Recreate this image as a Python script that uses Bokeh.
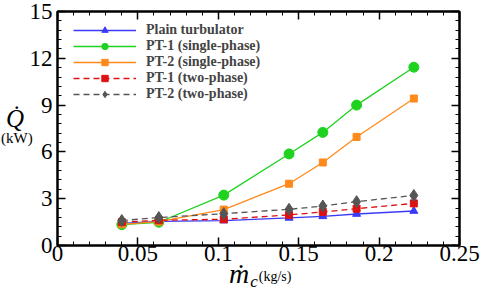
from bokeh.plotting import figure
from bokeh.models import (FixedTicker, LinearAxis, Legend, LegendItem, Range1d, Div)
from bokeh.layouts import column
from bokeh.embed import file_html
from bokeh.resources import INLINE

mass_flow = [0.04, 0.063, 0.1034, 0.144, 0.165, 0.186, 0.2216]
plain = [1.42, 1.55, 1.60, 1.77, 1.87, 2.02, 2.21]
pt1_single = [1.34, 1.49, 3.23, 5.87, 7.25, 9.0, 11.43]
pt2_single = [1.36, 1.53, 2.30, 3.96, 5.32, 6.96, 9.42]
pt1_two = [1.50, 1.62, 1.68, 1.96, 2.15, 2.36, 2.70]
pt2_two = [1.60, 1.79, 2.04, 2.32, 2.53, 2.81, 3.21]

x_ticks = [0, 0.05, 0.1, 0.15, 0.2, 0.25]
x_tick_labels = ["0", "0.05", "0.1", "0.15", "0.2", "0.25"]
y_ticks = [0, 3, 6, 9, 12, 15]
y_tick_labels = ["0", "3", "6", "9", "12", "15"]
x_minor = [round(i * 0.01, 3) for i in range(26)]
y_minor = [round(i * 0.6, 2) for i in range(26)]

FONT = "Liberation Serif"

p = figure(width=480, height=271, output_backend="svg", toolbar_location=None,
           x_range=Range1d(0, 0.25), y_range=Range1d(0, 15),
           min_border_left=57, min_border_right=21, min_border_top=11, min_border_bottom=26)
p.xgrid.visible = False
p.ygrid.visible = False
p.outline_line_color = "black"
p.outline_line_width = 2
p.background_fill_color = "white"
p.border_fill_color = "white"


def style_axis(ax, ticks, minor, labels, show_labels):
    ax.ticker = FixedTicker(ticks=ticks, minor_ticks=minor)
    ax.axis_line_color = "black"
    ax.axis_line_width = 2
    ax.major_tick_in = 8
    ax.major_tick_out = 0
    ax.minor_tick_in = 4
    ax.minor_tick_out = 0
    ax.major_tick_line_width = 1.5
    ax.minor_tick_line_width = 1
    ax.major_label_text_font = FONT
    ax.major_label_text_color = "black"
    if show_labels:
        ax.major_label_text_font_size = "23px"
        ax.major_label_overrides = {t: l for t, l in zip(ticks, labels)}
    else:
        ax.major_label_text_font_size = "1px"
        ax.major_label_standoff = 0
        ax.major_label_overrides = {t: "" for t in ticks}


style_axis(p.xaxis[0], x_ticks, x_minor, x_tick_labels, True)
p.xaxis[0].major_label_standoff = 0
style_axis(p.yaxis[0], y_ticks, y_minor, y_tick_labels, True)
p.yaxis[0].major_label_standoff = 5

top = LinearAxis()
style_axis(top, x_ticks, x_minor, x_tick_labels, False)
p.add_layout(top, "above")
right = LinearAxis()
style_axis(right, y_ticks, y_minor, y_tick_labels, False)
p.add_layout(right, "right")

series = [
    ("Plain turbulator", plain, "#3b3bf5", None, "triangle", 8),
    ("PT-1 (single-phase)", pt1_single, "#1fd21f", None, "circle", 10),
    ("PT-2 (single-phase)", pt2_single, "#ff8a1c", None, "square", 7),
    ("PT-1 (two-phase)", pt1_two, "#dd1111", "6 4", "square", 7),
    ("PT-2 (two-phase)", pt2_two, "#555555", "6 4", "diamond", 12),
]

items = []
for name, ys, col, dash, marker, size in series:
    kw = {}
    if dash:
        kw["line_dash"] = dash
    ln = p.line(mass_flow, ys, line_color=col, line_width=1.3, **kw)
    sc = p.scatter(mass_flow, ys, marker=marker, size=size, fill_color=col, line_color=col)
    items.append(LegendItem(label=name, renderers=[ln, sc]))

leg = Legend(items=items, location=(16, 143), border_line_color=None,
             background_fill_alpha=0, label_text_font=FONT, label_text_font_style="bold",
             label_text_font_size="14px", glyph_width=63, glyph_height=16, label_height=16,
             label_standoff=10, spacing=0, margin=0, padding=0)
p.add_layout(leg)

css = [":host { overflow: visible !important; }", "div { overflow: visible !important; }"]

# Axis titles, placed in an overlay strip below the figure (positions relative to it)
lab_html = (
    "<div style=\"position:relative;width:480px;height:19px;font-family:'Liberation Serif',serif;color:black;\">"
    "<span style=\"position:absolute;left:6px;top:-163px;font-size:25px;line-height:22px;font-style:italic;\">Q&#775;</span>"
    "<span style=\"position:absolute;left:1px;top:-139px;font-size:15px;line-height:13px;\">(kW)</span>"
    "<span style=\"position:absolute;left:229px;top:-11px;font-size:28px;line-height:28px;white-space:nowrap;\">"
    "<i>m&#775;</i><i style=\"font-size:17px;vertical-align:-4px;margin-left:1px;\">c</i>"
    "<span style=\"font-size:14px;vertical-align:2px;margin-left:1px;\">(kg/s)</span></span>"
    "</div>"
)

labels = Div(text=lab_html, width=480, height=19, margin=0, styles={"overflow": "visible"}, stylesheets=css)

layout = column(p, labels, spacing=0)

open("out.html", "w").write(file_html(layout, INLINE))
